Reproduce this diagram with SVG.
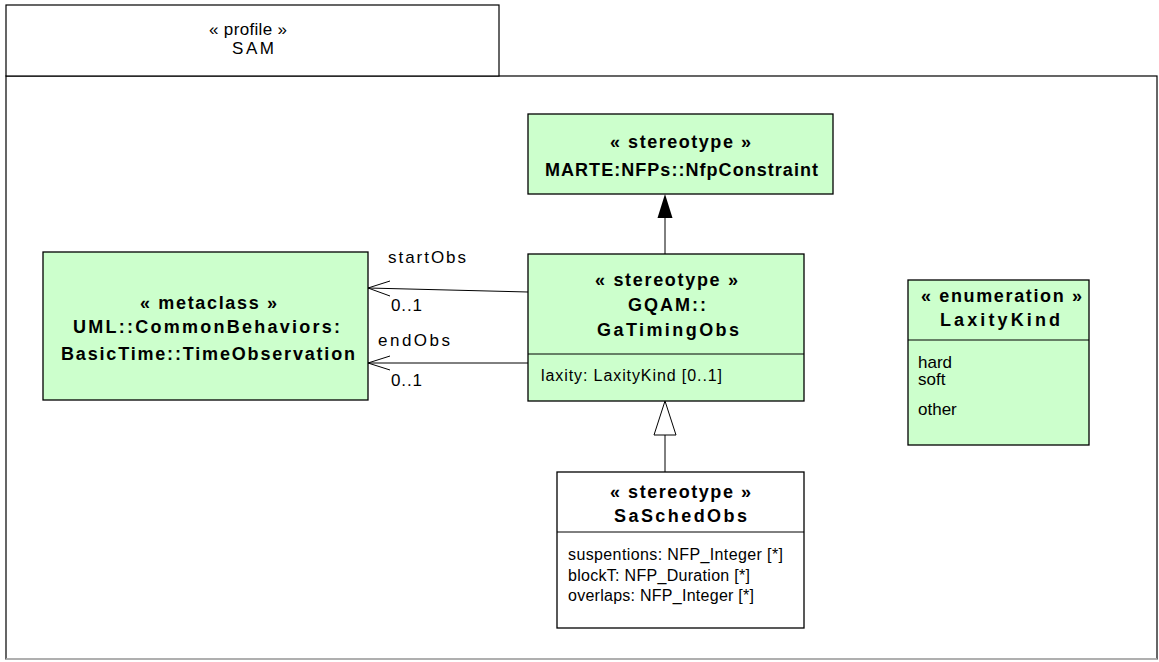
<svg xmlns="http://www.w3.org/2000/svg" width="1159" height="662" viewBox="0 0 1159 662">
<style>
  .frame{fill:#fff;stroke:#000;stroke-width:1.2}
  .cls{fill:#ccffcc;stroke:#000;stroke-width:1.3}
  .wcls{fill:#fff;stroke:#000;stroke-width:1.3}
  .div{stroke:#000;stroke-width:1}
  .t{font-family:"Liberation Sans",Arial,sans-serif;font-size:17px;fill:#000}
  .b{font-family:"Liberation Sans",Arial,sans-serif;font-size:18px;font-weight:bold;fill:#000}
  .a{font-family:"Liberation Sans",Arial,sans-serif;font-size:16px;fill:#000}
  .ln{fill:none;stroke:#000;stroke-width:1}
</style>
<rect width="1159" height="662" fill="#fff"/>
<g id="profile">
  <rect class="frame" x="6" y="76" width="1151" height="583"/>
  <line x1="6" y1="659" x2="1157" y2="659" stroke="#c8c8c8" stroke-width="1.5"/>
  <rect class="frame" x="6" y="5" width="493" height="71"/>
  <text class="t" x="209" y="35" textLength="78" lengthAdjust="spacing">« profile »</text>
  <text class="t" x="232" y="54" font-size="18" textLength="42" lengthAdjust="spacing">SAM</text>
</g>
<g id="NfpConstraint">
  <rect class="cls" x="528" y="114" width="305" height="80"/>
  <text class="b" x="610" y="148" textLength="141" lengthAdjust="spacing">« stereotype »</text>
  <text class="b" x="545" y="176" textLength="273" lengthAdjust="spacing">MARTE:NFPs::NfpConstraint</text>
</g>
<g id="GaTimingObs">
  <rect class="cls" x="528" y="254" width="276" height="147"/>
  <line class="div" x1="528" y1="354" x2="804" y2="354"/>
  <text class="b" x="595" y="286" textLength="143" lengthAdjust="spacing">« stereotype »</text>
  <text class="b" x="628" y="311" textLength="78" lengthAdjust="spacing">GQAM::</text>
  <text class="b" x="597" y="336" textLength="142" lengthAdjust="spacing">GaTimingObs</text>
  <text class="a" x="541" y="381" textLength="181" lengthAdjust="spacing">laxity: LaxityKind [0..1]</text>
</g>
<g id="TimeObservation">
  <rect class="cls" x="43" y="252" width="325" height="148"/>
  <text class="b" x="140" y="309" textLength="137" lengthAdjust="spacing">« metaclass »</text>
  <text class="b" x="73" y="333" textLength="267" lengthAdjust="spacing">UML::CommonBehaviors:</text>
  <text class="b" x="61" y="360" textLength="294" lengthAdjust="spacing">BasicTime::TimeObservation</text>
</g>
<g id="SaSchedObs">
  <rect class="wcls" x="557" y="472" width="247" height="156"/>
  <line class="div" x1="557" y1="532" x2="804" y2="532"/>
  <text class="b" x="610" y="498" textLength="141" lengthAdjust="spacing">« stereotype »</text>
  <text class="b" x="614" y="522" textLength="133" lengthAdjust="spacing">SaSchedObs</text>
  <text class="a" x="568" y="560" textLength="215" lengthAdjust="spacing">suspentions: NFP_Integer [*]</text>
  <text class="a" x="568" y="581" textLength="182" lengthAdjust="spacing">blockT: NFP_Duration [*]</text>
  <text class="a" x="568" y="601" textLength="186" lengthAdjust="spacing">overlaps: NFP_Integer [*]</text>
</g>
<g id="LaxityKind">
  <rect class="cls" x="908" y="280" width="181" height="165"/>
  <line class="div" x1="908" y1="340" x2="1089" y2="340"/>
  <text class="b" x="921" y="302" textLength="161" lengthAdjust="spacing">« enumeration »</text>
  <text class="b" x="940" y="326" textLength="120" lengthAdjust="spacing">LaxityKind</text>
  <text class="t" x="918" y="368">hard</text>
  <text class="t" x="918" y="385">soft</text>
  <text class="t" x="918" y="415">other</text>
</g>
<g id="connectors">
  <line class="ln" x1="665" y1="254" x2="665" y2="217"/>
  <polygon points="665,194 657.5,218 672.5,218" fill="#000"/>
  <line class="ln" x1="665" y1="472" x2="665" y2="435"/>
  <polygon points="665,401 654,435 676,435" fill="#fff" stroke="#000" stroke-width="1"/>
  <line class="ln" x1="528" y1="292" x2="368" y2="288"/>
  <polyline class="ln" points="390,281 368,288 390,296"/>
  <text class="t" x="388" y="263" textLength="78" lengthAdjust="spacing">startObs</text>
  <text class="t" x="391" y="311" textLength="31" lengthAdjust="spacing">0..1</text>
  <line class="ln" x1="528" y1="363" x2="368" y2="363"/>
  <polyline class="ln" points="390,356 368,363 390,370"/>
  <text class="t" x="378" y="346" textLength="72" lengthAdjust="spacing">endObs</text>
  <text class="t" x="391" y="386" textLength="31" lengthAdjust="spacing">0..1</text>
</g>
</svg>
